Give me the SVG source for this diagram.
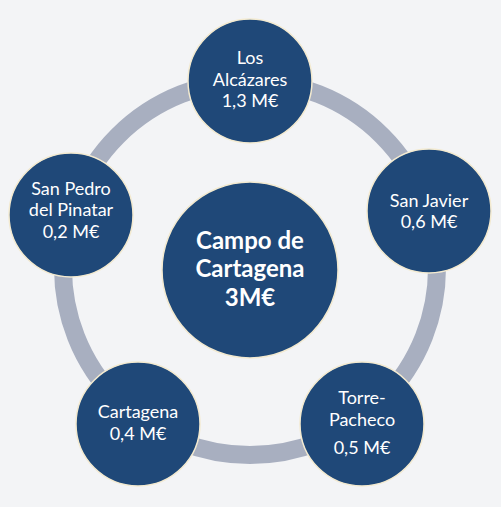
<svg xmlns="http://www.w3.org/2000/svg" width="501" height="507" viewBox="0 0 501 507">
<style>
.n{fill:#1f4878;stroke:#f3ead0;stroke-width:1.5}
.t{font-family:Lato,"Open Sans","Liberation Sans",sans-serif;font-size:18px;fill:#ffffff;text-anchor:middle}
.b{font-family:Lato,"Open Sans","Liberation Sans",sans-serif;font-size:24px;font-weight:bold;fill:#ffffff;text-anchor:middle}
</style>
<rect width="501" height="507" fill="#f3f4f6"/>
<g id="connectors">
<circle cx="250" cy="268" r="187" fill="none" stroke="#a8afc0" stroke-width="18"/>
</g>
<g id="center">
<circle class="n" cx="250" cy="270" r="88"/>
<text class="b" x="250" y="249">Campo de</text>
<text class="b" x="250" y="277">Cartagena</text>
<text class="b" x="250" y="306">3M€</text>
</g>
<g id="los-alcazares">
<circle class="n" cx="250" cy="81" r="62"/>
<text class="t" x="250" y="64">Los</text>
<text class="t" x="250" y="86">Alcázares</text>
<text class="t" x="250" y="107">1,3 M€</text>
</g>
<g id="san-javier">
<circle class="n" cx="429" cy="211" r="62"/>
<text class="t" x="429" y="207">San Javier</text>
<text class="t" x="429" y="228">0,6 M€</text>
</g>
<g id="torre-pacheco">
<circle class="n" cx="362" cy="424" r="62"/>
<text class="t" x="362" y="404">Torre-</text>
<text class="t" x="362" y="426">Pacheco</text>
<text class="t" x="362" y="454">0,5 M€</text>
</g>
<g id="cartagena">
<circle class="n" cx="138" cy="424" r="62"/>
<text class="t" x="138" y="418">Cartagena</text>
<text class="t" x="138" y="440">0,4 M€</text>
</g>
<g id="san-pedro">
<circle class="n" cx="71" cy="215" r="62"/>
<text class="t" x="71" y="195">San Pedro</text>
<text class="t" x="71" y="216">del Pinatar</text>
<text class="t" x="71" y="238">0,2 M€</text>
</g>
</svg>
